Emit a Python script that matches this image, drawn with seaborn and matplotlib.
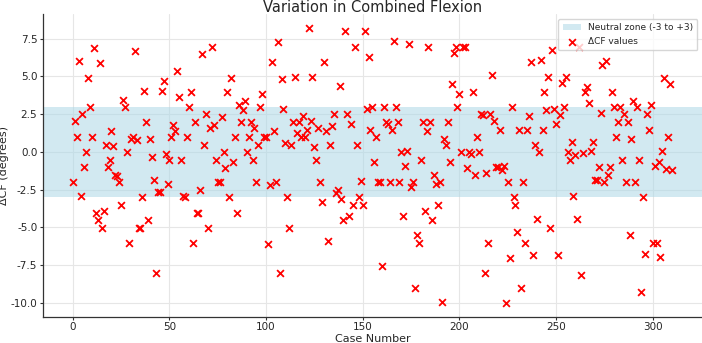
import numpy as np
import pandas as pd
import matplotlib
matplotlib.use("Agg")
import matplotlib.pyplot as plt
import seaborn as sns

# ---- data ----
values_part1 = [
    -2.02, 2.06, 0.96, 5.99, -2.89, 2.48, -1.03, -0.02, 4.89, 2.96,
    0.96, 6.86, -4.04, -4.52, 5.86, -5.02, -3.93, 0.48, -1.03, -0.55,
    1.38, 0.37, -1.56, -1.62, -2.02, -3.53, 3.44, 2.96, -0.02, -6.01,
    0.86, 0.99, 6.66, 0.79, -5.02, -5.02, -3.0, 4.06, 1.95, -4.52,
    0.88, -0.33, -1.84, -8.03, -2.65,
]
values_part2 = [
    -2.63, 4.06, 4.67, -0.11, -2.13, -0.55, 0.96, 1.78, 1.38, 5.37,
    3.66, -0.55, -2.89, -3.0, 0.96, 2.96, 3.95, -6.01, 1.95, -4.03,
    -4.03, -2.52, 6.45, 0.48, 2.48, -5.02, 1.56, 6.95, 1.78, -0.55,
    -2.02, -2.02, 2.28, -0.02, -1.07, 3.95, -3.0, 4.87, -0.64, 0.96,
    -4.03, 3.09, 1.95, 2.76, 3.36, -0.02, 0.96, 1.95, -0.55, 1.56,
    -2.02, 0.48, 2.96, 3.86, 0.96, 0.96, -6.12,
]
values_part3 = [
    -2.22, 5.97, 1.38, -2.02, 7.26, -8.03, 4.80, 2.83, 0.59, -3.0,
    -5.02, 0.48, 1.95, 4.95, 1.27, 1.95, 0.96, 2.39, 0.96, 1.47,
    8.18, 2.06, 4.95, 0.35, -0.55, 1.56, -2.02, -3.33, 5.97, 1.36,
    -5.9, 0.48, 1.69, 2.54, -2.72, -2.54, 4.36, -3.11, -4.52, 7.98,
    2.48, -4.23, 1.86, -3.53, 6.95, 0.48, -3.0, -1.93, -3.53, 7.98,
    2.83, 6.27, 1.47, 2.96, -0.64, 0.96,
]
values_part4 = [
    -2.02, -2.02, -7.54, 2.96, 1.95, 1.84, -2.02, 1.45, 7.37, 2.96,
    1.95, -2.02, -0.02, -4.25, -0.94, 0.07, 7.15, -2.32, -2.02, -9.01,
    -5.53, -6.01, -0.55, 1.95, -3.93, 1.38, 6.95, 1.95, -4.52, -1.53,
    -2.13, -3.53, -2.02, -9.91, 0.88, 0.46, 1.95, -0.64, 4.47, 6.53,
    6.95, 2.96, 3.86, -0.02, 6.95, 6.95, -1.07, -0.02, -0.11, 3.95,
    -1.53, 0.96, -0.02, 2.54, 2.43, -8.03, -1.4, -6.01,
]
values_part5 = [
    2.48, 5.07, 2.04, -1.0, -1.0, 1.45, -1.18, -0.92, -10.0, -2.02,
    -7.04, 2.96, -3.0, -3.53, -5.31, 1.45, -9.01, -2.02, -6.01, 1.45,
    2.37, 5.97, -6.84, 0.46, -4.43, -0.02, 6.07, 1.45, 3.95, 2.76,
    4.98, -5.02, 6.76, 2.87, 1.86, -6.84, 2.43, 4.56, 2.96, 4.98,
    -0.02, -0.55, 0.68, -2.89, -0.2, -4.43, 6.95, -8.14, -0.09, 3.97,
    4.30, 3.24, 0.07, 0.68, -1.89, -1.89,
]
values_part6 = [
    -0.97, 2.56, 5.77, -2.02, 5.99, -1.53, -1.03, 3.97, 3.0, 0.96,
    1.95, 3.0, -0.55, 2.48, -2.02, 1.95, -5.53, 0.86, 3.36, -2.02,
    3.0, -0.55, -9.3, -3.0, -6.73, 2.48, 1.45, 3.09, -6.01, -0.92,
    -6.01, -0.64, -6.93, 0.07, 4.89, -1.1, 0.96, 4.47, -1.2,
]
delta_cf = (values_part1 + values_part2 + values_part3
            + values_part4 + values_part5 + values_part6)
case_numbers = list(range(len(delta_cf)))

neutral_low, neutral_high = -3, 3
title = "Variation in Combined Flexion"
xlabel = "Case Number"
ylabel = "\u0394CF (degrees)"
band_label = "Neutral zone (-3 to +3)"
points_label = "\u0394CF values"

df = pd.DataFrame({"case": case_numbers, "dcf": delta_cf})

# ---- plot ----
sns.set_style("whitegrid")
plt.rcParams["font.family"] = ["DejaVu Sans"]
plt.rcParams["axes.unicode_minus"] = False

fig = plt.figure(figsize=(7.02, 3.43), dpi=100)
ax = fig.add_axes([0.061, 0.077, 0.939, 0.881])

ax.axhspan(neutral_low, neutral_high, color="lightblue", alpha=0.55,
           label=band_label, zorder=1, linewidth=0)
sns.scatterplot(data=df, x="case", y="dcf", marker="x", color="red",
                s=24, linewidth=1.3, label=points_label, ax=ax, zorder=3)

ax.set_title(title, fontsize=10.5, pad=2)
ax.set_xlabel(xlabel, fontsize=8, labelpad=1)
ax.set_ylabel(ylabel, fontsize=8, labelpad=1)
ax.tick_params(axis="both", labelsize=7.5, length=2.5, width=0.8,
               color="#333333", pad=1.5, left=True, bottom=True)
ax.set_xticks([0, 50, 100, 150, 200, 250, 300])
ax.set_yticks([-10, -7.5, -5, -2.5, 0, 2.5, 5, 7.5])
ax.set_xlim(-15.5, 325.5)
ax.set_ylim(-10.9, 9.1)
ax.grid(True, color="#e6e6e6", linewidth=0.8)
for side in ["left", "bottom"]:
    ax.spines[side].set_color("#333333")
    ax.spines[side].set_linewidth(0.9)
for side in ["top", "right"]:
    ax.spines[side].set_visible(False)

ax.legend(loc="upper right", fontsize=6.5, frameon=True, framealpha=0.8,
          borderpad=0.5, handlelength=2.0)

fig.savefig("out.png", dpi=100)
